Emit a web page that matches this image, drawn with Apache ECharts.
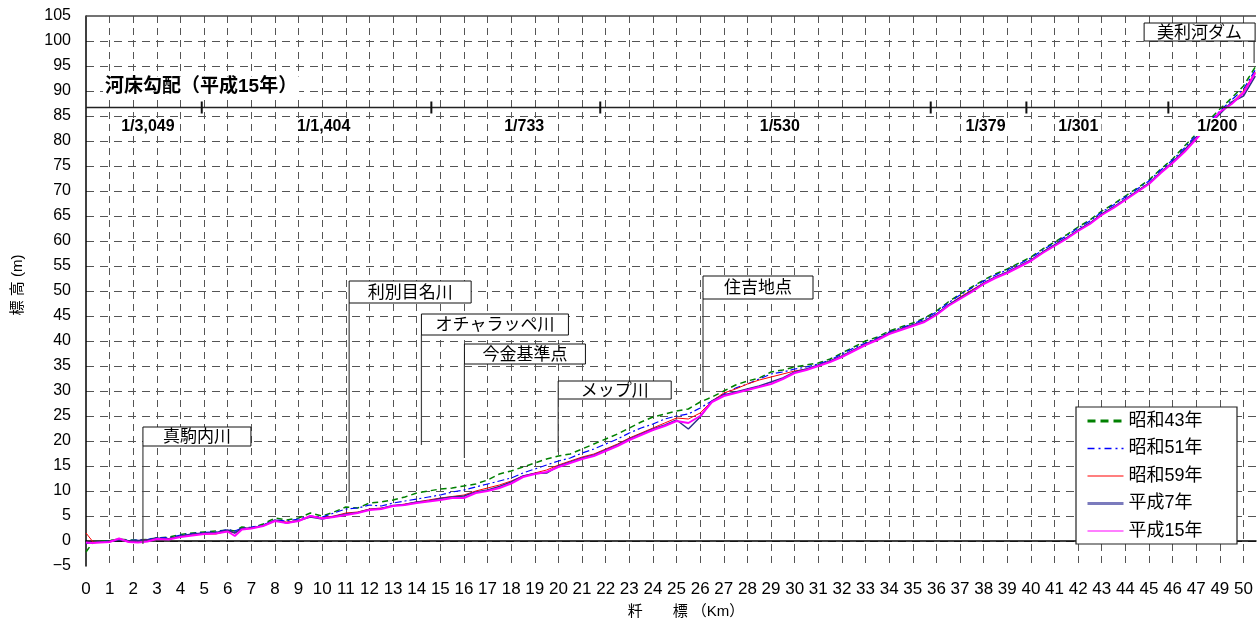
<!DOCTYPE html>
<html>
<head>
<meta charset="utf-8">
<script src="https://cdn.jsdelivr.net/npm/echarts@6/dist/echarts.min.js"></script>
<style>
body { margin: 0; background: #fff; }
#main { width: 1259px; height: 621px; }
</style>
</head>
<body>
<div id="main"></div>
<script>
// 軸上の位置（目盛番号）
const kmPos = [
  0, 0.3, 0.6, 1, 1.4, 1.8, 2.2, 2.6, 3, 3.5,
  4, 4.5, 5, 5.5, 6, 6.3, 6.6, 7, 7.5, 8,
  8.5, 9, 9.5, 10, 10.5, 11, 11.5, 12, 12.5, 13,
  13.5, 14, 14.5, 15, 15.5, 16, 16.5, 17, 17.5, 18,
  18.5, 19, 19.5, 20, 20.5, 21, 21.5, 22, 22.5, 23,
  23.5, 24, 24.5, 25, 25.5, 26, 26.5, 27, 27.5, 28,
  28.5, 29, 29.5, 30, 30.5, 31, 31.5, 32, 32.5, 33,
  33.5, 34, 34.5, 35, 35.5, 36, 36.5, 37, 37.5, 38,
  38.5, 39, 39.5, 40, 40.5, 41, 41.5, 42, 42.5, 43,
  43.5, 44, 44.5, 45, 45.5, 46, 46.5, 47, 47.5, 48,
  48.5, 49, 49.5
];
// 標高 (m)
const s43 = [
  -2.2, -0.2, 0.0, 0.1, 0.4, 0.2, 0.2, 0.3, 0.6, 0.8,
  1.3, 1.6, 1.8, 2.0, 2.2, 2.0, 2.8, 2.6, 3.4, 4.6,
  4.2, 4.6, 5.6, 5.0, 5.8, 6.8, 6.6, 7.6, 7.8, 8.2,
  8.8, 9.6, 10.0, 10.4, 10.6, 11.0, 11.4, 12.2, 13.4, 14.0,
  14.8, 15.6, 16.4, 17.0, 17.4, 18.4, 19.4, 20.4, 21.4, 22.6,
  23.8, 24.8, 25.4, 26.0, 26.4, 27.8, 28.8, 30.0, 31.2, 32.0,
  32.6, 33.8, 34.2, 34.8, 35.2, 35.6, 36.4, 37.6, 38.8, 40.0,
  40.8, 42.0, 42.8, 43.6, 44.6, 46.0, 47.8, 49.4, 50.8, 52.2,
  53.4, 54.4, 55.6, 56.8, 58.4, 59.8, 61.2, 62.8, 64.2, 66.0,
  67.4, 69.0, 70.6, 72.2, 74.4, 76.4, 79.0, 81.4, 84.0, 86.4,
  88.6, 91.0, 94.8
];
const s51 = [
  -0.5, -0.3, -0.2, 0.0, 0.4, 0.1, 0.2, 0.3, 0.7, 0.6,
  1.2, 1.5, 1.7, 1.8, 2.3, 2.0, 2.6, 2.8, 3.2, 4.2,
  4.0, 4.4, 5.0, 4.8, 5.6, 6.4, 6.6, 7.2, 7.0, 7.6,
  8.0, 8.4, 8.8, 9.2, 9.8, 10.2, 10.8, 11.4, 12.0, 12.6,
  13.6, 14.4, 15.2, 16.0, 16.6, 17.6, 18.4, 19.4, 20.4, 21.6,
  22.6, 23.4, 24.4, 25.0, 25.4, 26.6, 28.0, 29.4, 30.6, 31.4,
  32.4, 33.4, 33.8, 34.4, 34.8, 35.4, 36.2, 37.4, 38.6, 39.6,
  40.6, 41.8, 42.6, 43.4, 44.4, 45.8, 47.6, 49.2, 50.6, 52.0,
  53.2, 54.2, 55.4, 56.6, 58.2, 59.6, 61.0, 62.6, 64.0, 65.8,
  67.2, 68.8, 70.4, 72.0, 74.2, 76.2, 78.6, 81.2, 83.6, 86.0,
  88.2, 90.4, 94.2
];
const s59 = [
  1.6, -0.2, -0.3, -0.1, 0.3, 0.0, 0.1, 0.2, 0.4, 0.5,
  0.9, 1.2, 1.4, 1.4, 2.0, 1.6, 2.5, 2.6, 3.0, 4.0,
  3.8, 4.1, 5.0, 4.6, 5.0, 5.6, 5.8, 6.4, 6.6, 7.0,
  7.4, 7.8, 8.2, 8.6, 8.9, 9.2, 10.0, 10.6, 11.2, 12.0,
  13.0, 13.6, 14.2, 15.2, 16.0, 16.8, 17.4, 18.4, 19.4, 20.6,
  21.6, 22.6, 23.6, 24.6, 24.4, 25.6, 28.0, 29.6, 30.4, 31.4,
  32.2, 32.8, 33.4, 34.0, 34.4, 35.0, 36.0, 37.0, 38.2, 39.4,
  40.4, 41.6, 42.4, 43.2, 44.0, 45.4, 47.2, 48.8, 50.2, 51.6,
  52.8, 53.8, 55.0, 56.2, 57.8, 59.2, 60.6, 62.2, 63.6, 65.4,
  66.8, 68.4, 70.0, 71.6, 73.8, 75.8, 78.0, 80.6, 83.2, 85.6,
  87.6, 90.0, 93.8
];
const h7 = [
  -0.3, -0.3, -0.2, -0.1, 0.2, 0.0, 0.1, 0.2, 0.6, 0.4,
  1.0, 1.4, 1.6, 1.7, 2.2, 1.6, 2.5, 2.6, 3.1, 4.2,
  3.6, 4.1, 4.8, 4.4, 4.9, 5.4, 5.7, 6.3, 6.5, 7.1,
  7.3, 7.8, 8.0, 8.5, 8.8, 9.0, 9.8, 10.2, 10.9, 11.8,
  13.0, 13.5, 13.6, 15.0, 15.8, 16.6, 17.2, 18.2, 19.2, 20.4,
  21.4, 22.4, 23.2, 24.2, 22.4, 24.8, 28.0, 29.2, 29.8, 30.4,
  31.0, 31.8, 32.6, 33.8, 34.4, 35.2, 36.0, 37.0, 38.2, 39.4,
  40.4, 41.6, 42.4, 43.2, 44.0, 45.4, 47.2, 48.6, 50.0, 51.6,
  52.8, 53.8, 55.0, 56.2, 57.8, 59.2, 60.6, 62.2, 63.6, 65.4,
  66.8, 68.4, 70.0, 71.6, 73.8, 75.8, 78.2, 80.8, 83.0, 85.4,
  87.8, 89.0, 93.0
];
const h15 = [
  -0.3, -0.4, -0.3, -0.2, 0.5, -0.2, -0.3, -0.1, 0.4, 0.3,
  0.8, 1.1, 1.4, 1.5, 1.9, 1.0, 2.3, 2.5, 3.0, 4.0,
  3.6, 4.0, 5.0, 4.5, 4.8, 5.2, 5.6, 6.2, 6.4, 7.0,
  7.2, 7.6, 7.9, 8.2, 8.6, 8.6, 9.6, 10.0, 10.6, 11.5,
  12.8, 13.4, 13.8, 14.8, 15.6, 16.4, 17.0, 18.0, 19.0, 20.2,
  21.2, 22.2, 23.0, 24.0, 23.6, 25.0, 27.8, 29.0, 29.6, 30.2,
  30.8, 31.4, 32.4, 33.6, 34.2, 35.0, 35.8, 36.8, 38.0, 39.2,
  40.2, 41.4, 42.2, 43.0, 43.8, 45.2, 47.0, 48.4, 49.8, 51.4,
  52.6, 53.6, 54.8, 56.0, 57.6, 59.0, 60.4, 62.0, 63.4, 65.2,
  66.6, 68.2, 69.8, 71.4, 73.6, 75.6, 77.8, 80.4, 83.0, 85.8,
  87.4, 89.6, 93.6
];
const seriesNames = ['昭和43年', '昭和51年', '昭和59年', '平成7年', '平成15年'];
const xTickLabels = [
  '0', '1', '2', '3', '4', '5', '6', '7', '8', '9',
  '10', '11', '12', '13', '14', '15', '16', '17', '18', '19',
  '20', '21', '22', '23', '24', '25', '26', '27', '28', '29',
  '30', '31', '32', '33', '34', '35', '36', '37', '38', '39',
  '40', '41', '42', '43', '44', '45', '46', '47', '49', '50'
];
// 河床勾配
const gradeBreaks = [4.9, 14.62, 21.77, 35.76, 39.81, 45.82];
const gradeLabels = ['1/3,049', '1/1,404', '1/733', '1/530', '1/379', '1/301', '1/200'];
const gradeLabelKm = [2.62, 10.06, 18.55, 29.37, 38.08, 42.01, 47.89];
// 地点
const placeNames = ['真駒内川', '利別目名川', 'オチャラッペ川', '今金基準点', 'メップ川', '住吉地点', '美利河ダム'];
const placeKm = [2.41, 11.14, 14.2, 16.02, 19.99, 26.12, 49.45];

const xMax = 49.53;
const gradeLineY = 86.7;
const FONT = '"Liberation Sans", "Noto Sans CJK JP", sans-serif';

// 注記ボックスの配置（上端の標高、引出線の下端、幅・高さ px）
const placeBoxTop = [22.8, 52, 45.4, 39.4, 32, 53, 103.6];
const placeLineEnd = [-0.6, 7.8, 19.2, 16.6, 17.8, 29.8, 95.6];
const placeBoxW = [108, 122, 147, 121, 113, 110, 111];
const placeBoxH = [19, 22, 21, 20, 18, 23, 18];

const lineStyles = [
  { color: '#008000', width: 1.5, type: [6, 4] },
  { color: '#0000ff', width: 1.2, type: [7, 3, 2, 3] },
  { color: '#ff0000', width: 1, type: 'solid' },
  { color: '#2e2e8a', width: 1.5, type: 'solid' },
  { color: '#ff00ff', width: 2, type: 'solid' }
];
const legendLine = [
  { color: '#008000', width: 3, type: [8, 5] },
  { color: '#0000ff', width: 1.5, type: [7, 4, 2, 4] },
  { color: '#ff0000', width: 1.2, type: 'solid' },
  { color: '#7b7bbd', width: 3, type: 'solid' },
  { color: '#ff00ff', width: 1.2, type: 'solid' }
];
const values = [s43, s51, s59, h7, h15];

let chart = echarts.init(document.getElementById('main'));

chart.setOption({
  animation: false,
  textStyle: { fontFamily: FONT },
  grid: { left: 86, top: 16, right: 1, bottom: 55 },
  xAxis: {
    type: 'value',
    min: 0,
    max: xMax,
    interval: 1,
    axisLine: { lineStyle: { color: '#000', width: 1.5 } },
    axisTick: { show: false },
    axisLabel: {
      margin: 15,
      fontSize: 17,
      color: '#000',
      fontFamily: FONT,
      formatter: function (v) {
        return Number.isInteger(v) && xTickLabels[v] !== undefined ? xTickLabels[v] : '';
      }
    },
    splitLine: { show: true, showMinLine: false, showMaxLine: false, lineStyle: { color: '#555', width: 1, type: [7, 5] } }
  },
  yAxis: {
    type: 'value',
    min: -5,
    max: 105,
    interval: 5,
    axisLine: { show: true, lineStyle: { color: '#000', width: 1.5 } },
    axisTick: { show: false },
    axisLabel: {
      margin: 15,
      fontSize: 16,
      color: '#000',
      fontFamily: FONT,
      formatter: function (v) {
        return v < 0 ? '\u2212' + (-v) : String(v);
      }
    },
    splitLine: { show: true, showMinLine: false, showMaxLine: false, lineStyle: { color: '#555', width: 1, type: [8, 6] } }
  },
  legend: {
    orient: 'vertical',
    left: 1086,
    top: 412,
    padding: 0,
    itemWidth: 36,
    itemHeight: 18,
    itemGap: 9.5,
    z: 20,
    textStyle: { fontSize: 18, color: '#000', fontFamily: FONT },
    data: seriesNames.map(function (n, i) {
      return { name: n, lineStyle: legendLine[i], itemStyle: { opacity: 0 } };
    })
  },
  series: seriesNames.map(function (name, i) {
    return {
      name: name,
      type: 'line',
      symbol: 'none',
      z: 2 + i * 0.1,
      lineStyle: lineStyles[i],
      itemStyle: { color: lineStyles[i].color },
      data: kmPos.map(function (k, j) { return [k, values[i][j]]; })
    };
  })
});

// 注記類（座標はチャートのスケールから求める）
const px = function (k, v) { return chart.convertToPixel({ gridIndex: 0 }, [k, v]); };
const g = [];

// 上枠
const tl = px(0, 105), tr = px(xMax, 105);
g.push({ type: 'line', z: 5, shape: { x1: tl[0], y1: tl[1], x2: tr[0], y2: tr[1] }, style: { stroke: '#444', lineWidth: 1.5 } });

// 勾配の区切り線
const gl = px(0, gradeLineY), gr = px(xMax, gradeLineY);
g.push({ type: 'line', z: 6, shape: { x1: gl[0], y1: gl[1], x2: gr[0], y2: gr[1] }, style: { stroke: '#222', lineWidth: 1.5 } });
gradeBreaks.forEach(function (b) {
  const a = px(b, 87.9), c = px(b, 85.5);
  g.push({ type: 'line', z: 6, shape: { x1: a[0], y1: a[1], x2: c[0], y2: c[1] }, style: { stroke: '#111', lineWidth: 2 } });
});
gradeLabels.forEach(function (t, i) {
  const p = px(gradeLabelKm[i], 82.8);
  g.push({
    type: 'text', z: 10, x: p[0], y: p[1],
    style: {
      text: t, align: 'center', verticalAlign: 'middle',
      fontSize: 16, fontWeight: 'bold', fontFamily: FONT, fill: '#000',
      backgroundColor: '#fff', padding: [1, 3]
    }
  });
});

// タイトル
const tp = px(0.72, 90.8);
g.push({
  type: 'text', z: 10, x: tp[0], y: tp[1],
  style: {
    text: '河床勾配（平成15年）', align: 'left', verticalAlign: 'middle',
    fontSize: 19, fontWeight: 'bold', fontFamily: FONT, fill: '#000',
    backgroundColor: '#fff', padding: [1, 2]
  }
});

// 地点名ボックスと引出線
placeNames.forEach(function (name, i) {
  const top = px(placeKm[i], placeBoxTop[i]);
  const end = px(placeKm[i], placeLineEnd[i]);
  const w = placeBoxW[i], h = placeBoxH[i];
  const bx = i === placeNames.length - 1 ? top[0] - w + 1 : top[0];
  g.push({
    type: 'line', z: 8,
    shape: { x1: top[0], y1: top[1] + h, x2: end[0], y2: end[1] },
    style: { stroke: '#444', lineWidth: 1.2 }
  });
  g.push({
    type: 'rect', z: 9,
    shape: { x: bx, y: top[1], width: w, height: h },
    style: { fill: '#fff', stroke: '#111', lineWidth: 1 }
  });
  g.push({
    type: 'text', z: 10, x: bx + w / 2, y: top[1] + h / 2 + 1,
    style: {
      text: name, align: 'center', verticalAlign: 'middle',
      fontSize: 17, fontFamily: FONT, fill: '#000'
    }
  });
});

// 凡例の枠
g.push({
  type: 'rect', z: 15,
  shape: { x: 1076, y: 407, width: 161, height: 137 },
  style: { fill: '#fff', stroke: '#222', lineWidth: 1.2 }
});

// 軸タイトル
g.push({
  type: 'text', z: 10, x: 18, y: 285, rotation: Math.PI / 2,
  style: { text: '標 高 (m)', align: 'center', verticalAlign: 'middle', fontSize: 15, fontFamily: FONT, fill: '#000' }
});
g.push({
  type: 'text', z: 10, x: 686, y: 612,
  style: { text: '粁　　標 （Km）', align: 'center', verticalAlign: 'middle', fontSize: 15, fontFamily: FONT, fill: '#000' }
});

chart.setOption({ graphic: g });
</script>
</body>
</html>
